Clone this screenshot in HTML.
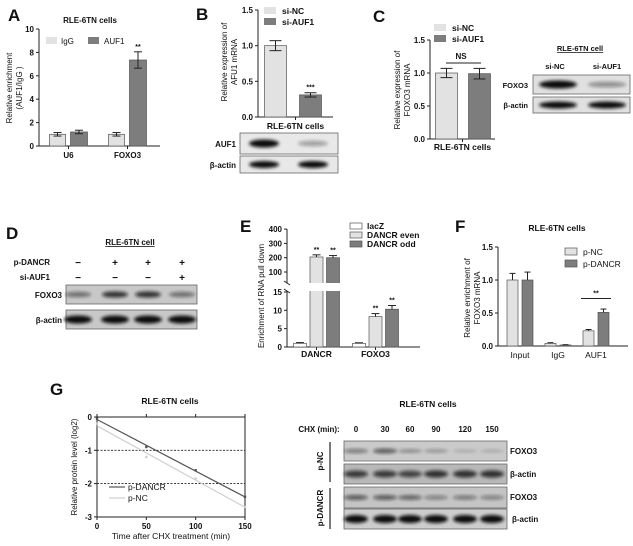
<!DOCTYPE html>
<html><head><meta charset="utf-8"><style>
html,body{margin:0;padding:0;background:#fff;}
svg{display:block;font-family:"Liberation Sans",Arial,sans-serif;font-weight:bold;}
</style></head><body>
<svg id="fig" width="633" height="546" viewBox="0 0 633 546" xmlns="http://www.w3.org/2000/svg">
<defs>
<filter id="blur" x="-20%" y="-50%" width="140%" height="200%"><feGaussianBlur stdDeviation="1.6"/></filter>
</defs>
<g id="root"></g>
</svg>
<script>
// ---- Panel A data
const aCats=['U6','FOXO3'];
const aIgG=[1.0,1.0];
const aIgGErr=[0.15,0.15];
const aAUF1=[1.2,7.35];
const aAUF1Err=[0.15,0.7];
const aTicks=[0,2,4,6,8,10];
// ---- Panel B data
const bCats=['si-NC','si-AUF1'];
const bVals=[1.0,0.31];
const bErr=[0.07,0.03];
const bTicks=['0.0','0.5','1.0','1.5'];
// ---- Panel C data
const cCats=['si-NC','si-AUF1'];
const cVals=[1.0,0.99];
const cErr=[0.07,0.08];
const cTicks=['0.0','0.5','1.0','1.5'];
// ---- Panel E data
const eCats=['DANCR','FOXO3'];
const eLacZ=[1.0,1.0];
const eLacZErr=[0.2,0.15];
const eEven=[205,8.3];
const eEvenErr=[15,0.8];
const eOdd=[200,10.3];
const eOddErr=[15,1.0];
const eTicksLow=[0,5,10,15];
const eTicksHigh=[100,200,300,400];
// ---- Panel F data
const fCats=['Input','IgG','AUF1'];
const fNC=[1.0,0.04,0.23];
const fNCErr=[0.1,0.01,0.02];
const fDANCR=[1.0,0.015,0.51];
const fDANCRErr=[0.12,0.005,0.05];
const fTicks=['0.0','0.5','1.0','1.5'];
// ---- Panel G data
const gTimes=[0,50,100,150];
const gDANCR=[-0.05,-0.9,-1.6,-2.4];
const gNC=[-0.2,-1.2,-1.85,-2.7];
const gYTicks=[0,-1,-2,-3];
const gXTicks=[0,50,100,150];

const NS='http://www.w3.org/2000/svg';
const root=document.getElementById('root');
function mk(tag,attrs,parent){const e=document.createElementNS(NS,tag);for(const k in attrs)e.setAttribute(k,attrs[k]);(parent||root).appendChild(e);return e;}
function txt(s,x,y,size,anchor,parent,extra){const t=mk('text',Object.assign({x:x,y:y,'font-size':size,'text-anchor':anchor||'middle',fill:'#111'},extra||{}),parent);t.textContent=s;return t;}
function line(x1,y1,x2,y2,parent,w,col,dash){const a={x1:x1,y1:y1,x2:x2,y2:y2,stroke:col||'#222','stroke-width':w||1};if(dash)a['stroke-dasharray']=dash;return mk('line',a,parent);}
function bar(x,w,y0,y,fill,parent){return mk('rect',{x:x,y:Math.min(y,y0),width:w,height:Math.abs(y0-y),fill:fill,stroke:'#555','stroke-width':0.7},parent);}
function err(cx,yTop,yErr,parent,cap){line(cx,yTop,cx,yErr,parent,1);line(cx-(cap||4),yErr,cx+(cap||4),yErr,parent,1);}
const LIGHT='#e2e2e2',DARK='#7d7d7d';

// Panel letters
[['A',8,21],['B',196,20],['C',373,22],['D',6,239],['E',240,232],['F',455,232],['G',50,395]].forEach(p=>{
  const t=txt(p[0],p[1],p[2],17,'start');
  
  
});

// ================= Panel A
(function(){
  const g=mk('g',{});
  
  
  const y=v=>146-v*11.7, x0=39, step=59;
  txt('RLE-6TN cells',90,23,8,'middle',g);
  line(x0,29,x0,146,g);line(x0,146,160,146,g);
  aTicks.forEach(t=>{line(x0-3,y(t),x0,y(t),g);txt(String(t),x0-5,y(t)+3,8,'end',g);});
  aCats.forEach((c,i)=>{
    const cx=x0+(i+0.5)*step;
    line(cx,146,cx,149,g);
    const b1=bar(cx-19,16,146,y(aIgG[i]),LIGHT,g);
    
    
    err(cx-11,y(aIgG[i]-aIgGErr[i]),y(aIgG[i]+aIgGErr[i]),g);
    line(cx-15,y(aIgG[i]-aIgGErr[i]),cx-7,y(aIgG[i]-aIgGErr[i]),g);
    const b2=bar(cx+2,17,146,y(aAUF1[i]),DARK,g);
    
    
    err(cx+10.5,y(aAUF1[i]-aAUF1Err[i]),y(aAUF1[i]+aAUF1Err[i]),g);
    line(cx+6.5,y(aAUF1[i]-aAUF1Err[i]),cx+14.5,y(aAUF1[i]-aAUF1Err[i]),g);
    txt(c,cx,158,8,'middle',g);
  });
  txt('**',x0+1.5*step+10.5,y(aAUF1[1]+aAUF1Err[1])-3,7,'middle',g);
  mk('rect',{x:46,y:37,width:11,height:7,fill:LIGHT},g);txt('IgG',61,44,8,'start',g,{'font-weight':'normal'});
  mk('rect',{x:88,y:37,width:11,height:7,fill:DARK},g);txt('AUF1',104,44,8,'start',g,{'font-weight':'normal'});
  const yl=mk('g',{transform:'translate(12,88) rotate(-90)'},g);
  txt('Relative enrichment',0,0,8,'middle',yl,{'font-weight':'normal'});
  txt('(AUF1/IgG )',0,10,8,'middle',yl,{'font-weight':'normal'});
})();

// ================= simple 2-bar panels B and C
function twoBar(name,vals,errs,ticks,x0,x1,step,yTop,yBot,legX,legY,lbl1,lbl2,ylX,ylY,xlabel,xlY){
  const g=mk('g',{});
  
  
  const ppu=(yBot-yTop)/1.5, y=v=>yBot-v*ppu;
  line(x0,yTop,x0,yBot,g);line(x0,yBot,x1,yBot,g);
  ticks.forEach(t=>{line(x0-3,y(+t),x0,y(+t),g);txt(t,x0-5,y(+t)+3,8,'end',g);});
  vals.forEach((v,i)=>{
    const cx=x0+(i+0.5)*step;
    const b=bar(cx-11,22,yBot,y(v),i?DARK:LIGHT,g);
    
    
    err(cx,y(v-errs[i]),y(v+errs[i]),g,6);
    line(cx-6,y(v-errs[i]),cx+6,y(v-errs[i]),g);
  });
  line((x0+x1)/2,yBot,(x0+x1)/2,yBot+3,g);
  mk('rect',{x:legX,y:legY-7,width:12,height:7,fill:LIGHT},g);txt(lbl1,legX+18,legY,8.5,'start',g);
  mk('rect',{x:legX,y:legY+4,width:12,height:7,fill:DARK},g);txt(lbl2,legX+18,legY+11,8.5,'start',g);
  const yl=mk('g',{transform:'translate('+ylX+','+ylY+') rotate(-90)'},g);
  txt('Relative expression of',0,0,8,'middle',yl,{'font-weight':'normal'});
  txt(xlabel[0],0,10,8,'middle',yl,{'font-weight':'normal'});
  txt(xlabel[1],(x0+x1)/2,xlY,8.5,'middle',g);
  return {g:g,y:y};
}
const B=twoBar('panel-b-chart',bVals,bErr,bTicks,258,333,35,10,117,264,14,'si-NC','si-AUF1',227,62,['AFU1 mRNA','RLE-6TN cells'],129);
txt('***',258+1.5*35,B.y(bVals[1]+bErr[1])-3,7,'middle',B.g);
const C=twoBar('panel-c-chart',cVals,cErr,cTicks,430,495,33,40,139,434,31,'si-NC','si-AUF1',400,90,['FOXO3 mRNA','RLE-6TN cells'],150);
txt('NS',461,59,8,'middle',C.g);line(446,63,481,63,C.g);

// ================= Blots
function blotBox(name,x,y,w,h,lanes,intens,bw,bh,bg){
  const g=mk('g',{});
  
  
  mk('rect',{x:x,y:y,width:w,height:h,fill:bg||'#cfcfcf',stroke:'#666','stroke-width':0.8},g);
  lanes.forEach((cx,i)=>{
    const a=intens[i];
    mk('ellipse',{cx:cx,cy:y+h/2,rx:bw/2,ry:bh/2*(0.5+0.5*a),fill:'#111','fill-opacity':a,filter:'url(#blur)'},g);
  });
  return g;
}
// B blot
blotBox('blot-b-auf1',240,133,98,21,[264,313],[1,0.35],30,8,'#e8e8e8');
blotBox('blot-b-actin',240,156,98,17,[264,313],[1,1],30,7,'#e8e8e8');
txt('AUF1',236,147,8,'end');txt('β-actin',236,168,8,'end');
// C blot
txt('RLE-6TN cell',580,51,7.5,'middle',null,{'text-decoration':'underline'});
txt('si-NC',555,69,7.5,'middle');txt('si-AUF1',607,69,7.5,'middle');
blotBox('blot-c-foxo3',533,75,97,19,[558,607],[1,0.4],38,8,'#e0e0e0');
blotBox('blot-c-actin',533,97,97,16,[558,607],[1,1],38,7,'#e0e0e0');
txt('FOXO3',528,88,7.5,'end');txt('β-actin',528,108,7.5,'end');
// D blot
txt('RLE-6TN cell',130,245,8,'middle',null,{'text-decoration':'underline'});
txt('p-DANCR',50,265,8,'end');txt('si-AUF1',50,280,8,'end');
const dLanes=[78,115,148,182];
const dDANCR=['−','+','+','+'],dSi=['−','−','−','+'];
dLanes.forEach((x,i)=>{txt(dDANCR[i],x,266,10,'middle');txt(dSi[i],x,281,10,'middle');});
blotBox('blot-d-foxo3',66,285,131,19,dLanes,[0.5,0.8,0.8,0.5],26,7,'#c8c8c8');
blotBox('blot-d-actin',66,310,131,19,dLanes,[1,1,1,1],28,8,'#c8c8c8');
txt('FOXO3',62,298,8,'end');txt('β-actin',62,323,8,'end');
// G blot
txt('RLE-6TN cells',428,407,8.5,'middle');
txt('CHX (min):',319,432,8,'middle');
const gLanes=[356,385,410,436,465,492];
const gLab=['0','30','60','90','120','150'];
gLanes.forEach((x,i)=>txt(gLab[i],x,432,8,'middle'));
blotBox('blot-g-nc-foxo3',344,441,163,20,gLanes,[0.45,0.6,0.3,0.25,0.15,0.15],24,6,'#cacaca');
blotBox('blot-g-nc-actin',344,464,163,20,gLanes,[0.75,0.75,0.7,0.8,0.8,0.8],24,8,'#b8b8b8');
blotBox('blot-g-dancr-foxo3',344,487,163,21,gLanes,[0.6,0.6,0.55,0.4,0.45,0.4],24,6,'#c4c4c4');
blotBox('blot-g-dancr-actin',344,509,163,20,gLanes,[1,1,1,1,1,1],24,8,'#cdcdcd');
txt('FOXO3',510,454,8,'start');txt('β-actin',510,477,8,'start');
txt('FOXO3',510,500,8,'start');txt('β-actin',512,522,8,'start');
line(330,442,330,482,null,1.2);line(330,488,330,529,null,1.2);
txt('p-NC',0,0,8,'middle',null,{transform:'translate(323,461) rotate(-90)'});
txt('p-DANCR',0,0,8,'middle',null,{transform:'translate(323,508) rotate(-90)'});

// ================= Panel E
(function(){
  const g=mk('g',{});
  
  
  const x0=287, step=59, yb=347;
  const y=v=>v<=15? yb-v*3.67 : 272-(v-100)*0.143;
  line(x0,229,x0,283,g);line(x0,291,x0,yb,g);line(x0,yb,420,yb,g);
  eTicksLow.forEach(t=>{line(x0-3,y(t),x0,y(t),g);txt(String(t),x0-5,y(t)+3,8,'end',g);});
  eTicksHigh.forEach(t=>{line(x0-3,y(t),x0,y(t),g);txt(String(t),x0-5,y(t)+3,8,'end',g);});
  const series=[[eLacZ,eLacZErr,'#fff','lacz',-16.5],[eEven,eEvenErr,LIGHT,'dancr-even',0],[eOdd,eOddErr,DARK,'dancr-odd',16.5]];
  eCats.forEach((c,i)=>{
    const cx=x0+(i+0.5)*step;
    line(cx,yb,cx,yb+3,g);
    series.forEach(s=>{
      const v=s[0][i],e=s[1][i],bx=cx+s[4];
      const b=bar(bx-6.5,13,yb,y(v),s[2],g);
      
      
      err(bx,y(v),y(v+e),g,4);
      if(s[3]!=='lacz')txt('**',bx,y(v+e)-3,7,'middle',g);
    });
    txt(c,cx,357,8.5,'middle',g);
  });
  mk('rect',{x:x0+3,y:283,width:130,height:8,fill:'#fff'},g);
  line(x0-3,281,x0+3,285,g);line(x0-3,289,x0+3,293,g);
  [['lacZ','#fff'],['DANCR even',LIGHT],['DANCR odd',DARK]].forEach((l,i)=>{
    mk('rect',{x:350,y:223+i*9,width:12,height:6,fill:l[1],stroke:'#555','stroke-width':0.7},g);
    txt(l[0],367,229+i*9,8.5,'start',g);
  });
  txt('Enrichment of RNA pull down',0,0,8,'middle',g,{'font-weight':'normal',transform:'translate(264,296) rotate(-90)'});
})();

// ================= Panel F
(function(){
  const g=mk('g',{});
  
  
  const x0=498, step=38, yb=346;
  const y=v=>yb-v*66;
  txt('RLE-6TN cells',557,231,8.5,'middle',g);
  line(x0,247,x0,yb,g);line(x0,yb,628,yb,g);
  fTicks.forEach(t=>{line(x0-3,y(+t),x0,y(+t),g);txt(t,x0-5,y(+t)+3,8,'end',g);});
  fCats.forEach((c,i)=>{
    const cx=x0+3+(i+0.5)*step;
    const b1=bar(cx-13,11,yb,y(fNC[i]),LIGHT,g);
    
    
    err(cx-7.5,y(fNC[i]),y(fNC[i]+fNCErr[i]),g,3);
    const b2=bar(cx+2,11,yb,y(fDANCR[i]),DARK,g);
    
    
    err(cx+7.5,y(fDANCR[i]),y(fDANCR[i]+fDANCRErr[i]),g,3);
    txt(c,cx,358,8.5,'middle',g,{'font-weight':'normal'});
  });
  const ca=x0+3+2.5*step;
  line(ca-15,y(0.72),ca+15,y(0.72),g);txt('**',ca,y(0.72)-3,7,'middle',g);
  mk('rect',{x:565,y:248,width:12,height:7,fill:LIGHT,stroke:'#555','stroke-width':0.7},g);txt('p-NC',583,255,8.5,'start',g,{'font-weight':'normal'});
  mk('rect',{x:565,y:260,width:12,height:7,fill:DARK,stroke:'#555','stroke-width':0.7},g);txt('p-DANCR',583,267,8.5,'start',g,{'font-weight':'normal'});
  const yl=mk('g',{transform:'translate(470,298) rotate(-90)'},g);
  txt('Relative enrichment of',0,0,8,'middle',yl,{'font-weight':'normal'});
  txt('FOXO3 mRNA',0,10,8,'middle',yl,{'font-weight':'normal'});
})();

// ================= Panel G line chart
(function(){
  const g=mk('g',{});
  
  
  const x=t=>97+t*148/150, y=v=>417-v*33.3;
  txt('RLE-6TN cells',170,404,8.5,'middle',g);
  line(97,417,97,517,g);line(97,517,245,517,g);line(97,417,245,417,g);line(245,417,245,517,g);
  gYTicks.forEach(t=>{line(94,y(t),97,y(t),g);txt(String(t),92,y(t)+3,8,'end',g);});
  gXTicks.forEach(t=>{line(x(t),517,x(t),520,g);line(x(t),414,x(t),417,g);txt(String(t),x(t),529,8,'middle',g);});
  [-1,-2].forEach(v=>line(97,y(v),245,y(v),g,0.9,'#222','2,1.5'));
  function fit(ts,vs){const n=ts.length,mt=ts.reduce((a,b)=>a+b)/n,mv=vs.reduce((a,b)=>a+b)/n;let sn=0,sd=0;ts.forEach((t,i)=>{sn+=(t-mt)*(vs[i]-mv);sd+=(t-mt)*(t-mt);});const m=sn/sd;return [mv-m*mt,m];}
  [[gNC,'#cfcfcf','p-nc'],[gDANCR,'#555','p-dancr']].forEach(s=>{
    const f=fit(gTimes,s[0]);
    const l=line(x(0),y(f[0]),x(150),y(f[0]+f[1]*150),g,1.2,s[1]);
    
    
    gTimes.forEach((t,i)=>{
      const p=mk('rect',{x:x(t)-1.2,y:y(s[0][i])-1.2,width:2.4,height:2.4,fill:s[1]},g);
      
      
    });
  });
  line(109,487,125,487,g,1.2,'#555');txt('p-DANCR',128,490,8.5,'start',g,{'font-weight':'normal'});
  line(109,498,125,498,g,1.2,'#cfcfcf');txt('p-NC',128,501,8.5,'start',g,{'font-weight':'normal'});
  txt('Time after CHX treatment (min)',171,539,8.5,'middle',g,{'font-weight':'normal'});
  txt('Relative protein level (log2)',0,0,8,'middle',g,{'font-weight':'normal',transform:'translate(77,467) rotate(-90)'});
})();
</script>
</body></html>
